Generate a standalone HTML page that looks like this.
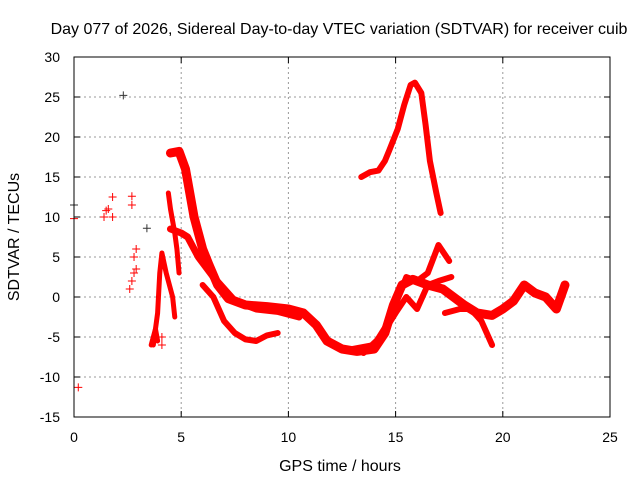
<!DOCTYPE html>
<html><head><meta charset="utf-8"><style>
body{margin:0;background:#fff}
svg text{font-family:"Liberation Sans",sans-serif;font-size:14px;fill:#000}
svg text.big{font-size:16px}
</style></head><body>
<svg id="c" width="640" height="480" xmlns="http://www.w3.org/2000/svg">
<rect width="640" height="480" fill="#fff"/>
<text class="big" x="339" y="34" text-anchor="middle">Day 077 of 2026, Sidereal Day-to-day VTEC variation (SDTVAR) for receiver cuib</text>
<text class="big" x="340" y="471" text-anchor="middle">GPS time / hours</text>
<text class="big" transform="translate(19,237) rotate(-90)" text-anchor="middle">SDTVAR / TECUs</text>
<g id="grid"></g><g id="marks"></g>
<rect x="74" y="57" width="536" height="360" fill="none" stroke="#000" stroke-width="1"/>
</svg>
<script>
const xTicks=[0,5,10,15,20,25];
const yTicks=[-15,-10,-5,0,5,10,15,20,25,30];
const trackA=[[13.4,15],[13.8,15.6],[14.2,15.8],[14.5,17],[14.7,18.3],[15.1,21],[15.4,24],[15.7,26.5],[15.9,26.8],[16.2,25.5],[16.4,21.5],[16.6,17],[16.9,13],[17.1,10.5]];
const trackB=[[4.5,18],[4.9,18.2],[5.2,16],[5.4,13],[5.6,10],[5.8,8],[6,6],[6.3,4],[6.7,1.5],[7.2,-0.2],[8,-1],[9,-1.2],[10,-1.5],[10.7,-2],[11.3,-3.5],[11.8,-5.5],[12.5,-6.5],[13.2,-6.8],[14,-6.5],[14.5,-4.5],[14.9,-1],[15.3,1.5],[15.8,2.2],[16.5,1.5],[17.2,1],[17.7,0],[18.2,-1],[18.8,-2],[19.5,-2.3],[20,-1.5],[20.5,-0.5],[21,1.5],[21.5,0.5],[22,0],[22.5,-1.5],[22.9,1.5]];
const trackC=[[6.0,1.5],[6.5,0],[7,-3],[7.5,-4.5],[8,-5.3],[8.5,-5.5],[9,-4.8],[9.5,-4.5]];
const trackD=[[4.5,8.5],[5,8],[5.3,7.5],[5.8,5],[6.5,2.5],[7.5,-0.5],[8.5,-1.5],[9.5,-1.8],[10.5,-2.5]];
const trackE=[[13,-6.5],[14,-6],[14.7,-3],[15.2,0.5],[15.5,2.5],[16,2],[16.5,3],[17,6.5],[17.5,4.5]];
const trackF=[[13.5,-7],[14.3,-5],[15,-2],[15.5,0],[16,-1.5],[16.5,1.5],[17,2],[17.6,2.5]];
const trackG=[[17.3,-2],[18,-1.5],[18.5,-1.5],[19,-3],[19.5,-6]];
const trackH=[[3.7,-6],[3.9,-2],[4.0,3],[4.1,5.5],[4.3,3],[4.6,0],[4.7,-2.5]];
const trackI=[[4.4,13],[4.5,11],[4.7,8],[4.8,6],[4.9,3]];
const trackJ=[[3.6,-6],[3.8,-4],[3.9,-5.5]];
const scatterRed=[[0.2,-11.3],[0,9.8],[1.4,10],[1.5,10.8],[1.6,11],[1.8,12.5],[1.8,10],[2.7,12.6],[2.7,11.5],[2.6,1],[2.7,2],[2.8,3],[2.8,5],[2.9,6],[2.9,3.5],[4.1,-5],[4.1,-6]];
const scatterBlack=[[0,11.5],[2.3,25.2],[3.4,8.6]];
const X=v=>74+v*536/25, Y=v=>297-v*8;
const ns="http://www.w3.org/2000/svg";
const grid=document.getElementById('grid'), marks=document.getElementById('marks');
function mk(t,p,a){const e=document.createElementNS(ns,t);for(const k in a)e.setAttribute(k,a[k]);p.appendChild(e);return e;}
xTicks.forEach(t=>{
 if(t>0&&t<25){const l=mk('line',grid,{x1:X(t),x2:X(t),y1:57,y2:417,stroke:'#999','stroke-dasharray':'2,3'});
 
 }
 mk('line',grid,{x1:X(t),x2:X(t),y1:417,y2:411,stroke:'#000'});
 mk('line',grid,{x1:X(t),x2:X(t),y1:57,y2:63,stroke:'#000'});
 const tx=mk('text',grid,{x:X(t),y:442,'text-anchor':'middle'});tx.textContent=t;
 
 
});
yTicks.forEach(t=>{
 if(t>-15&&t<30){const l=mk('line',grid,{x1:74,x2:610,y1:Y(t),y2:Y(t),stroke:'#999','stroke-dasharray':'2,3'});
 
 }
 mk('line',grid,{x1:74,x2:80,y1:Y(t),y2:Y(t),stroke:'#000'});
 mk('line',grid,{x1:604,x2:610,y1:Y(t),y2:Y(t),stroke:'#000'});
 const tx=mk('text',grid,{x:60,y:Y(t)+5,'text-anchor':'end'});tx.textContent=t;
 
 
});
[[trackA,6],[trackB,9],[trackC,6],[trackD,7],[trackE,6],[trackF,6],[trackG,6],[trackH,5],[trackI,5],[trackJ,5]].forEach(([tr,w])=>{
 const p=mk('polyline',marks,{points:tr.map(d=>X(d[0])+','+Y(d[1])).join(' '),fill:'none',stroke:'#f00','stroke-width':w,'stroke-linejoin':'round','stroke-linecap':'round'});
 
 
});
function plus(d,col){const g=mk('path',marks,{d:`M${X(d[0])-4},${Y(d[1])}h8M${X(d[0])},${Y(d[1])-4}v8`,stroke:col,'stroke-width':1});
 
 }
scatterRed.forEach(d=>plus(d,'#f00'));
scatterBlack.forEach(d=>plus(d,'#333'));
</script>
</body></html>
